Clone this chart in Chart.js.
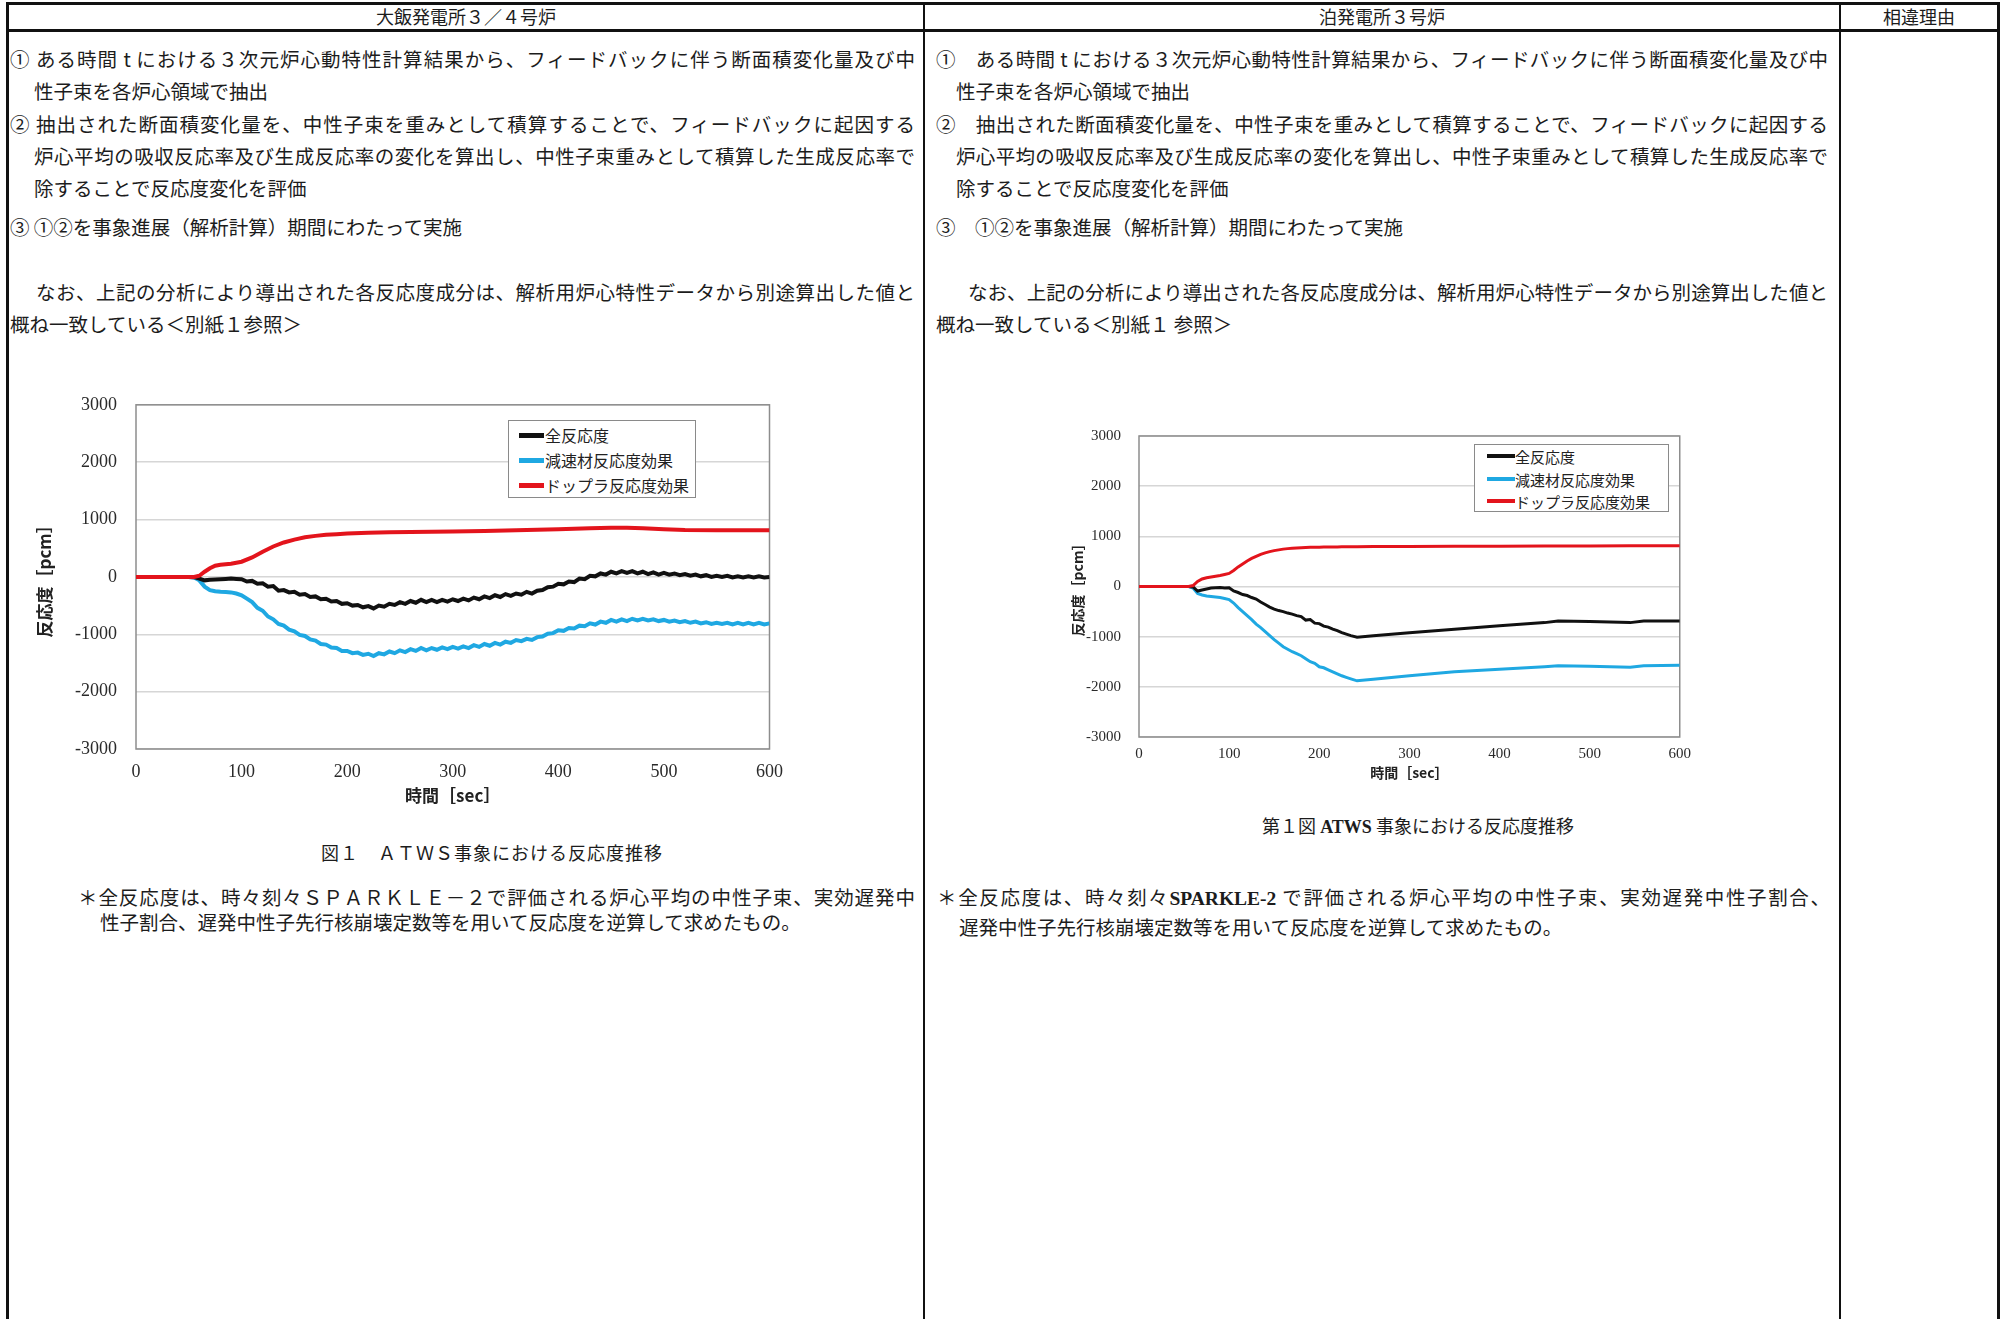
<!DOCTYPE html>
<html lang="ja">
<head>
<meta charset="utf-8">
<title>ATWS事象における反応度推移 比較</title>
<script src="https://cdn.jsdelivr.net/npm/chart.js@4.4.1/dist/chart.umd.min.js"></script>
<style>
  html, body { margin: 0; padding: 0; background: #fff; }
  body {
    width: 2000px; height: 1319px; position: relative; overflow: hidden;
    font-family: "Noto Sans CJK JP", sans-serif; color: #1c1c1c;
  }
  .rule { position: absolute; background: #111; }
  .hd { position: absolute; top: 3px; height: 26px; line-height: 26px; text-align: center; font-size: 18px; }
  .ln { position: absolute; font-size: 19.5px; line-height: 26px; white-space: nowrap; }
  .j { white-space: normal; text-align: justify; text-align-last: justify; }
  .cap { position: absolute; font-size: 18px; line-height: 24px; white-space: nowrap; transform: translateX(-50%); }
  .serifB { font-family: "Liberation Serif", serif; font-weight: bold; }
  .chartBox { position: absolute; }
  .legend { position: absolute; background: #fff; border: 1.5px solid #8a8a8a; box-sizing: border-box; }
  .legend .item { position: absolute; white-space: nowrap; color: #222; }
  .legend .swatch { position: absolute; }
</style>
</head>
<body>

<!-- table rules -->
<div class="rule" style="left:6px;top:2px;width:1994px;height:3px"></div>
<div class="rule" style="left:6px;top:29px;width:1994px;height:3px"></div>
<div class="rule" style="left:6px;top:2px;width:3px;height:1317px"></div>
<div class="rule" style="left:923px;top:2px;width:2px;height:1317px"></div>
<div class="rule" style="left:1839px;top:2px;width:2px;height:1317px"></div>
<div class="rule" style="left:1997px;top:2px;width:3px;height:1317px"></div>

<div class="hd" style="left:9px;width:914px">大飯発電所３／４号炉</div>
<div class="hd" style="left:925px;width:914px">泊発電所３号炉</div>
<div class="hd" style="left:1841px;width:156px">相違理由</div>

<!-- left column text -->
<div class="ln j" style="left:10px;width:905px;top:46px">① ある時間 t における３次元炉心動特性計算結果から、フィードバックに伴う断面積変化量及び中</div>
<div class="ln" style="left:34px;top:78px">性子束を各炉心領域で抽出</div>
<div class="ln j" style="left:10px;width:905px;top:111px">② 抽出された断面積変化量を、中性子束を重みとして積算することで、フィードバックに起因する</div>
<div class="ln j" style="left:34px;width:881px;top:143px">炉心平均の吸収反応率及び生成反応率の変化を算出し、中性子束重みとして積算した生成反応率で</div>
<div class="ln" style="left:34px;top:175px">除することで反応度変化を評価</div>
<div class="ln" style="left:10px;top:214px">③ ①②を事象進展（解析計算）期間にわたって実施</div>
<div class="ln j" style="left:36px;width:879px;top:279px">なお、上記の分析により導出された各反応度成分は、解析用炉心特性データから別途算出した値と</div>
<div class="ln" style="left:10px;top:311px">概ね一致している＜別紙１参照＞</div>

<!-- middle column text -->
<div class="ln j" style="left:936px;width:892px;top:46px">①　ある時間 t における３次元炉心動特性計算結果から、フィードバックに伴う断面積変化量及び中</div>
<div class="ln" style="left:956px;top:78px">性子束を各炉心領域で抽出</div>
<div class="ln j" style="left:936px;width:892px;top:111px">②　抽出された断面積変化量を、中性子束を重みとして積算することで、フィードバックに起因する</div>
<div class="ln j" style="left:956px;width:872px;top:143px">炉心平均の吸収反応率及び生成反応率の変化を算出し、中性子束重みとして積算した生成反応率で</div>
<div class="ln" style="left:956px;top:175px">除することで反応度変化を評価</div>
<div class="ln" style="left:936px;top:214px">③　①②を事象進展（解析計算）期間にわたって実施</div>
<div class="ln j" style="left:968px;width:860px;top:279px">なお、上記の分析により導出された各反応度成分は、解析用炉心特性データから別途算出した値と</div>
<div class="ln" style="left:936px;top:311px">概ね一致している＜別紙１ 参照＞</div>

<!-- charts -->
<div class="chartBox" style="left:20px;top:375px;width:775px;height:440px"><canvas id="ohiChart"></canvas></div>
<div class="legend" id="ohiLegend" style="left:508px;top:420px;width:188px;height:78px"></div>

<div class="chartBox" style="left:1060px;top:409px;width:639px;height:373px"><canvas id="tomariChart"></canvas></div>
<div class="legend" id="tomariLegend" style="left:1474px;top:444px;width:195px;height:68px"></div>

<!-- captions and notes -->
<div class="cap" style="left:492px;top:840px;letter-spacing:1px">図１　ＡＴＷＳ事象における反応度推移</div>
<div class="ln j" style="left:78px;width:837px;top:884px">＊全反応度は、時々刻々ＳＰＡＲＫＬＥ－２で評価される炉心平均の中性子束、実効遅発中</div>
<div class="ln" style="left:100px;top:909px">性子割合、遅発中性子先行核崩壊定数等を用いて反応度を逆算して求めたもの。</div>

<div class="cap" style="left:1418px;top:813px">第１図 <span class="serifB">ATWS</span> 事象における反応度推移</div>
<div class="ln j" style="left:937px;width:893px;top:884px">＊全反応度は、時々刻々<span class="serifB">SPARKLE-2</span> で評価される炉心平均の中性子束、実効遅発中性子割合、</div>
<div class="ln" style="left:959px;top:914px">遅発中性子先行核崩壊定数等を用いて反応度を逆算して求めたもの。</div>

<script>
// ---------- data: 大飯 3/4 号炉 ----------
const SERIES_NAMES = ["全反応度", "減速材反応度効果", "ドップラ反応度効果"];
const SERIES_COLORS = ["#111111", "#1fa8e2", "#e3141c"];

const ohiTime = [0,5,10,15,20,25,30,35,40,45,50,55,60,65,70,75,80,85,90,95,100,
  105,110,115,120,125,130,135,140,145,150,155,160,165,170,175,180,185,190,195,200,
  205,210,215,220,225,230,235,240,245,250,255,260,265,270,275,280,285,290,295,300,
  305,310,315,320,325,330,335,340,345,350,355,360,365,370,375,380,385,390,395,400,
  405,410,415,420,425,430,435,440,445,450,455,460,465,470,475,480,485,490,495,500,
  505,510,515,520,525,530,535,540,545,550,555,560,565,570,575,580,585,590,595,600];

const ohiTotal = [0,0,0,0,0,0,0,0,0,0,0,-5,
  -30,-60,-50,-45,-40,-35,-30,-35,-40,
  -80,-70,-120,-110,-170,-160,-240,-230,-270,-260,
  -310,-300,-350,-340,-390,-380,-430,-420,-470,-460,
  -500,-490,-530,-510,-550,-500,-520,-470,-490,-440,
  -470,-420,-450,-400,-440,-400,-440,-400,-430,-390,
  -420,-380,-410,-360,-390,-340,-370,-320,-350,-300,
  -330,-290,-310,-260,-290,-240,-230,-180,-170,-120,
  -130,-80,-90,-30,-40,20,10,60,40,90,
  60,100,70,100,60,90,50,80,40,70,
  40,60,30,50,20,40,10,30,0,20,
  0,20,-10,10,-10,10,-10,10,-10,0];

const ohiModerator = [0,0,0,0,0,0,0,0,0,0,0,-10,
  -60,-170,-230,-250,-260,-265,-270,-290,-320,
  -380,-440,-540,-590,-690,-740,-820,-850,-920,-950,
  -1010,-1030,-1090,-1110,-1170,-1180,-1230,-1240,-1290,-1290,
  -1330,-1320,-1360,-1340,-1380,-1330,-1350,-1300,-1330,-1280,
  -1310,-1260,-1290,-1240,-1280,-1240,-1270,-1230,-1260,-1220,
  -1250,-1210,-1240,-1190,-1220,-1170,-1200,-1150,-1180,-1130,
  -1150,-1100,-1120,-1080,-1100,-1050,-1040,-990,-980,-930,
  -940,-890,-900,-850,-860,-810,-830,-780,-800,-750,
  -780,-740,-770,-730,-760,-730,-760,-740,-770,-750,
  -780,-760,-790,-770,-800,-780,-810,-790,-820,-800,
  -820,-800,-830,-800,-830,-800,-830,-800,-830,-810];

const ohiDopplerTime = [0,55,60,65,70,75,80,90,100,110,120,130,140,150,160,170,180,190,200,
  220,240,260,280,300,330,360,400,430,450,465,480,500,520,550,600];
const ohiDoppler = [0,0,20,90,150,195,210,230,265,340,440,530,600,650,690,715,735,745,755,
  768,777,782,786,790,802,814,830,847,855,855,846,830,818,813,813];

// ---------- data: 泊 3 号炉 ----------
const tomariTime = [0,55,60,65,70,75,80,85,90,95,100,105,110,115,120,125,130,135,140,145,150,
  155,160,165,170,175,180,185,190,195,200,205,210,215,220,225,230,235,242,
  260,300,350,400,450,465,500,545,560,600];

const tomariTotal = [0,0,-10,-90,-70,-50,-30,-25,-20,-30,-25,-90,-120,-160,-180,-220,-250,-310,-360,-410,-450,
  -480,-500,-530,-550,-580,-600,-670,-660,-730,-740,-790,-810,-850,-880,-920,-950,-980,-1010,
  -980,-920,-850,-780,-720,-690,-700,-720,-690,-690];

const tomariModerator = [0,0,-30,-140,-170,-190,-200,-210,-220,-240,-260,-330,-420,-500,-580,-660,-750,-820,-900,-980,-1060,
  -1130,-1200,-1250,-1300,-1340,-1380,-1440,-1500,-1530,-1600,-1620,-1660,-1700,-1740,-1780,-1810,-1840,-1880,
  -1850,-1780,-1700,-1650,-1600,-1580,-1590,-1610,-1580,-1570];

const tomariDoppler = [0,0,20,100,150,175,190,205,220,240,260,320,390,450,510,560,600,640,670,695,715,
  730,745,755,762,768,772,776,780,782,784,786,787,788,789,790,791,792,793,
  795,798,800,802,805,806,808,810,810,810];

// axis ticks
const X_MIN = 0, X_MAX = 600, X_STEP = 100;
const Y_MIN = -3000, Y_MAX = 3000, Y_STEP = 1000;

// ---------- helpers ----------
const plotFrame = {
  id: "plotFrame",
  beforeDatasetsDraw(chart, args, opts) {
    const { ctx, chartArea: a } = chart;
    ctx.save();
    ctx.strokeStyle = opts.color;
    ctx.lineWidth = opts.width;
    ctx.strokeRect(a.left, a.top, a.right - a.left, a.bottom - a.top);
    ctx.restore();
  }
};

function toPoints(xs, ys) {
  return xs.map((x, i) => ({ x, y: ys[i] }));
}

function makeChart(canvasId, series, s) {
  return new Chart(document.getElementById(canvasId), {
    type: "line",
    data: {
      datasets: series.map((d, i) => ({
        label: SERIES_NAMES[i],
        data: toPoints(d.x, d.y),
        borderColor: SERIES_COLORS[i],
        backgroundColor: SERIES_COLORS[i],
        borderWidth: s.lineWidth,
        pointRadius: 0,
        tension: 0,
        fill: false,
        order: [1, 2, 0][i]
      }))
    },
    options: {
      responsive: true,
      maintainAspectRatio: false,
      animation: false,
      events: [],
      layout: { padding: { top: s.padTop, right: s.padRight, left: 0, bottom: 0 } },
      plugins: {
        legend: { display: false },
        tooltip: { enabled: false },
        plotFrame: { color: "#8d8d8d", width: 1.5 }
      },
      scales: {
        x: {
          type: "linear", min: X_MIN, max: X_MAX,
          ticks: {
            stepSize: X_STEP, padding: s.xTickPad, color: "#2a2a2a", maxRotation: 0,
            font: { family: "'Liberation Serif', serif", size: s.tickSize },
            callback: v => String(v)
          },
          grid: { display: false, drawTicks: false },
          border: { display: false },
          title: {
            display: true, text: "時間［sec］", color: "#222",
            font: { family: "'Noto Sans CJK JP', sans-serif", size: s.titleSize, weight: "bold" },
            padding: { top: 0, bottom: s.xTitlePad }
          },
          afterFit: sc => { sc.height = s.xAxisH; }
        },
        y: {
          min: Y_MIN, max: Y_MAX,
          ticks: {
            stepSize: Y_STEP, padding: s.yTickPad, color: "#2a2a2a",
            font: { family: "'Liberation Serif', serif", size: s.tickSize },
            callback: v => String(v)
          },
          grid: { color: "#d6d6d6", lineWidth: 1.5, drawTicks: false },
          border: { display: false },
          title: {
            display: true, text: "反応度［pcm］", color: "#222",
            font: { family: "'Noto Sans CJK JP', sans-serif", size: s.titleSize, weight: "bold" },
            padding: { top: s.yTitlePad, bottom: 0 }
          },
          afterFit: sc => { sc.width = s.yAxisW; }
        }
      }
    },
    plugins: [plotFrame]
  });
}

function buildLegend(id, s) {
  const box = document.getElementById(id);
  SERIES_NAMES.forEach((name, i) => {
    const sw = document.createElement("div");
    sw.className = "swatch";
    sw.style.cssText = `left:${s.swX}px;top:${s.rows[i] - s.swH / 2}px;width:${s.swW}px;height:${s.swH}px;background:${SERIES_COLORS[i]}`;
    const tx = document.createElement("div");
    tx.className = "item";
    tx.textContent = name;
    tx.style.cssText = `left:${s.textX}px;top:${s.rows[i] - s.font * 0.7}px;font-size:${s.font}px;line-height:${s.font * 1.4}px`;
    box.appendChild(sw);
    box.appendChild(tx);
  });
}

makeChart("ohiChart", [
  { x: ohiTime, y: ohiTotal },
  { x: ohiTime, y: ohiModerator },
  { x: ohiDopplerTime, y: ohiDoppler }
], {
  lineWidth: 4, tickSize: 18, titleSize: 17,
  padTop: 11, padRight: 20, yAxisW: 116, xAxisH: 66,
  xTickPad: 12, yTickPad: 19, xTitlePad: 9, yTitlePad: 14
});

makeChart("tomariChart", [
  { x: tomariTime, y: tomariTotal },
  { x: tomariTime, y: tomariModerator },
  { x: tomariTime, y: tomariDoppler }
], {
  lineWidth: 3, tickSize: 15, titleSize: 14,
  padTop: 10, padRight: 11, yAxisW: 79, xAxisH: 45,
  xTickPad: 8, yTickPad: 18, xTitlePad: 1, yTitlePad: 9
});

buildLegend("ohiLegend", { rows: [14, 39, 64], swX: 10, swW: 25, swH: 5, textX: 36, font: 16 });
buildLegend("tomariLegend", { rows: [11, 34, 56], swX: 12, swW: 28, swH: 4, textX: 40, font: 15 });
</script>
</body>
</html>
